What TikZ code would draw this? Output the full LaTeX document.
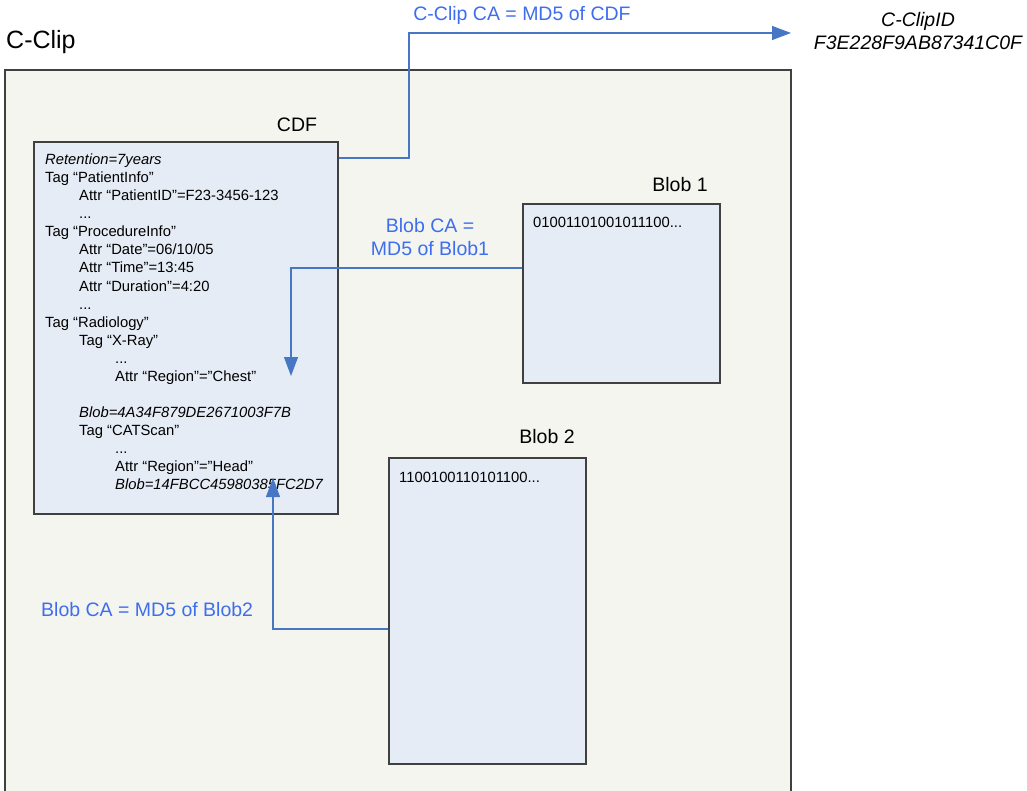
\documentclass[tikz,border=0pt]{standalone}
\usepackage{fontspec}
\setmainfont{Liberation Sans}
\usetikzlibrary{arrows.meta}
\definecolor{bgc}{RGB}{245,245,239}
\definecolor{boxc}{RGB}{230,236,246}
\definecolor{edgec}{RGB}{64,64,64}
\definecolor{connc}{RGB}{70,118,196}
\definecolor{labc}{RGB}{62,110,238}
\tikzset{
  x=1pt, y=-1pt,
  databox/.style={draw=edgec, line width=1.3pt, fill=boxc, inner sep=0pt},
  cdfline/.style={anchor=base west, inner sep=0pt, font=\fontsize{14.8}{18}\selectfont},
  title/.style={inner sep=0pt, font=\fontsize{19.5}{23}\selectfont},
  bluelab/.style={inner sep=0pt, text=labc, font=\fontsize{19.5}{23}\selectfont, align=center},
  conn/.style={draw=connc, line width=1.2pt, -{Triangle[length=19pt,width=14pt]}},
}
\begin{document}
\begin{tikzpicture}
\useasboundingbox (0,0) rectangle (1027,791);
\fill[white] (0,0) rectangle (1027,791);
% outer C-Clip box
\draw[draw=edgec, line width=1.3pt, fill=bgc] (5,70) rectangle (791,796);
\node[anchor=west, inner sep=0pt, font=\fontsize{25}{28}\selectfont] (cliplab) at (6,42) {C-Clip};

% boxes
\node[databox, minimum width=304pt, minimum height=372pt] (cdf) at (186,328) {};
\node[title] (cdflab) at (297,125) {CDF};
\node[databox, minimum width=197pt, minimum height=179pt] (blob1) at (621.5,293.5) {};
\node[title] (blob1lab) at (680,185) {Blob 1};
\node[databox, minimum width=197pt, minimum height=306pt] (blob2) at (487.5,611) {};
\node[title] (blob2lab) at (547,437) {Blob 2};

\node[cdfline, anchor=west] (b1data) at (533,222) {01001101001011100...};
\node[cdfline, anchor=west] (b2data) at (399,477) {1100100110101100...};

% CDF contents
\node[cdfline] (l1) at (45,165) {\itshape Retention=7years};
\node[cdfline] (l2) at (45,183) {Tag “PatientInfo”};
\node[cdfline] (l3) at (79,201) {Attr “PatientID”=F23-3456-123};
\node[cdfline] (l4) at (79,219) {...};
\node[cdfline] (l5) at (45,237) {Tag “ProcedureInfo”};
\node[cdfline] (l6) at (79,255) {Attr “Date”=06/10/05};
\node[cdfline] (l7) at (79,273) {Attr “Time”=13:45};
\node[cdfline] (l8) at (79,291) {Attr “Duration”=4:20};
\node[cdfline] (l9) at (79,309) {...};
\node[cdfline] (l10) at (45,327) {Tag “Radiology”};
\node[cdfline] (l11) at (79,345) {Tag “X-Ray”};
\node[cdfline] (l12) at (115,363) {...};
\node[cdfline] (l13) at (115,381) {Attr “Region”=”Chest”};
\node[cdfline] (l14) at (79,417) {\itshape Blob=4A34F879DE2671003F7B};
\node[cdfline] (l15) at (79,435) {Tag “CATScan”};
\node[cdfline] (l16) at (115,453) {...};
\node[cdfline] (l17) at (115,471) {Attr “Region”=”Head”};
\node[cdfline] (l18) at (115,489) {\itshape Blob=14FBCC45980385FC2D7};

% C-Clip ID
\node[title, align=center, font=\fontsize{19.5}{23}\selectfont\itshape] (clipid) at (918,31) {C-ClipID\\F3E228F9AB87341C0F};
\coordinate (idtip) at (791,33);

% labels
\node[bluelab] (cdfca) at (522,15) {C-Clip CA = MD5 of CDF};
\node[bluelab] (blob1ca) at (430,237) {Blob CA =\\MD5 of Blob1};
\node[bluelab, anchor=west] (blob2ca) at (41,610) {Blob CA = MD5 of Blob2};

% connectors
\coordinate (tip1) at (291,376);
\coordinate (tip2) at (273,478);
\draw[conn] (cdf.north east |- 0,158) -- (409,158) -- (409,33) -- (idtip);
\draw[conn] (blob1.west |- 0,268) -| (tip1);
\draw[conn] (blob2.west |- 0,629) -| (tip2);
\end{tikzpicture}
\end{document}
